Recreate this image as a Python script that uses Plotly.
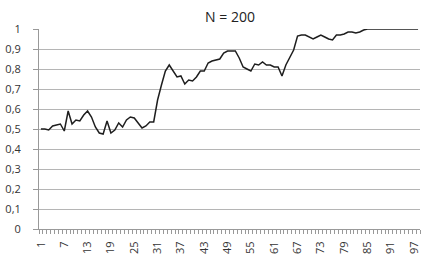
import plotly.graph_objects as go

categories = list(range(1, 99))
values = [
    0.50, 0.50, 0.495, 0.515, 0.52, 0.525, 0.49, 0.59, 0.525, 0.545,
    0.54, 0.57, 0.59, 0.56, 0.51, 0.48, 0.475, 0.54, 0.48, 0.495,
    0.53, 0.51, 0.545, 0.56, 0.555, 0.53, 0.505, 0.515, 0.535, 0.535,
    0.645, 0.72, 0.79, 0.82, 0.79, 0.76, 0.765, 0.725, 0.745, 0.74,
    0.76, 0.79, 0.79, 0.83, 0.84, 0.845, 0.85, 0.88, 0.89, 0.89,
    0.89, 0.855, 0.81, 0.80, 0.79, 0.825, 0.82, 0.835, 0.82, 0.82,
    0.81, 0.81, 0.765, 0.82, 0.855, 0.895, 0.965, 0.97, 0.97, 0.96,
    0.95, 0.96, 0.97, 0.96, 0.95, 0.945, 0.97, 0.97, 0.975, 0.985,
    0.985, 0.98, 0.985, 0.995, 1.0, 1.0, 1.0, 1.0, 1.0, 1.0,
    1.0, 1.0, 1.0, 1.0, 1.0, 1.0, 1.0, 1.0,
]
x_tick_labels = [str(v) for v in range(1, 98, 6)]
y_tick_vals = [0, 0.1, 0.2, 0.3, 0.4, 0.5, 0.6, 0.7, 0.8, 0.9, 1]
y_tick_labels = ["0", "0,1", "0,2", "0,3", "0,4", "0,5", "0,6", "0,7", "0,8", "0,9", "1"]
title_text = "N = 200"

font_family = "Open Sans, Liberation Sans, sans-serif"

fig = go.Figure()
fig.add_trace(go.Scatter(
    x=categories, y=values, mode="lines",
    line=dict(color="#1e1e1e", width=1.5),
    showlegend=False,
))

fig.update_layout(
    width=421, height=259,
    margin=dict(l=39, r=1, t=29, b=30, autoexpand=False),
    paper_bgcolor="white", plot_bgcolor="white",
    title=dict(text=title_text, x=230 / 421, xref="container", xanchor="center",
               y=1 - 17 / 259, yref="container", yanchor="middle",
               font=dict(family=font_family, size=14, color="#222"), automargin=False),
    font=dict(family=font_family, color="#222"),
)

fig.update_xaxes(
    range=[0.5, 98.5],
    tickmode="array",
    tickvals=[int(t) for t in x_tick_labels],
    ticktext=x_tick_labels,
    tickangle=-90,
    ticks="",
    ticklabelstandoff=7,
    tickfont=dict(size=11, color="#333"),
    showgrid=False,
    showline=True, linecolor="#999", linewidth=1,
    minor=dict(ticks="outside", tick0=0.5, dtick=1, ticklen=4, tickcolor="#999", tickwidth=1, showgrid=False),
    zeroline=False,
    automargin=False,
)

fig.update_yaxes(
    range=[0, 1.0],
    tickmode="array",
    tickvals=y_tick_vals,
    ticktext=y_tick_labels,
    tickfont=dict(size=11, color="#333"),
    showgrid=True, gridcolor="#b5b5b5", gridwidth=1,
    showline=True, linecolor="#999", linewidth=1,
    ticks="outside", ticklen=5, tickcolor="#999",
    ticklabelstandoff=10,
    zeroline=False,
    automargin=False,
)

fig.write_html(
    "out.html",
    config={"displayModeBar": False},
    post_script="document.body.style.margin='0';document.body.style.overflow='hidden';",
)
